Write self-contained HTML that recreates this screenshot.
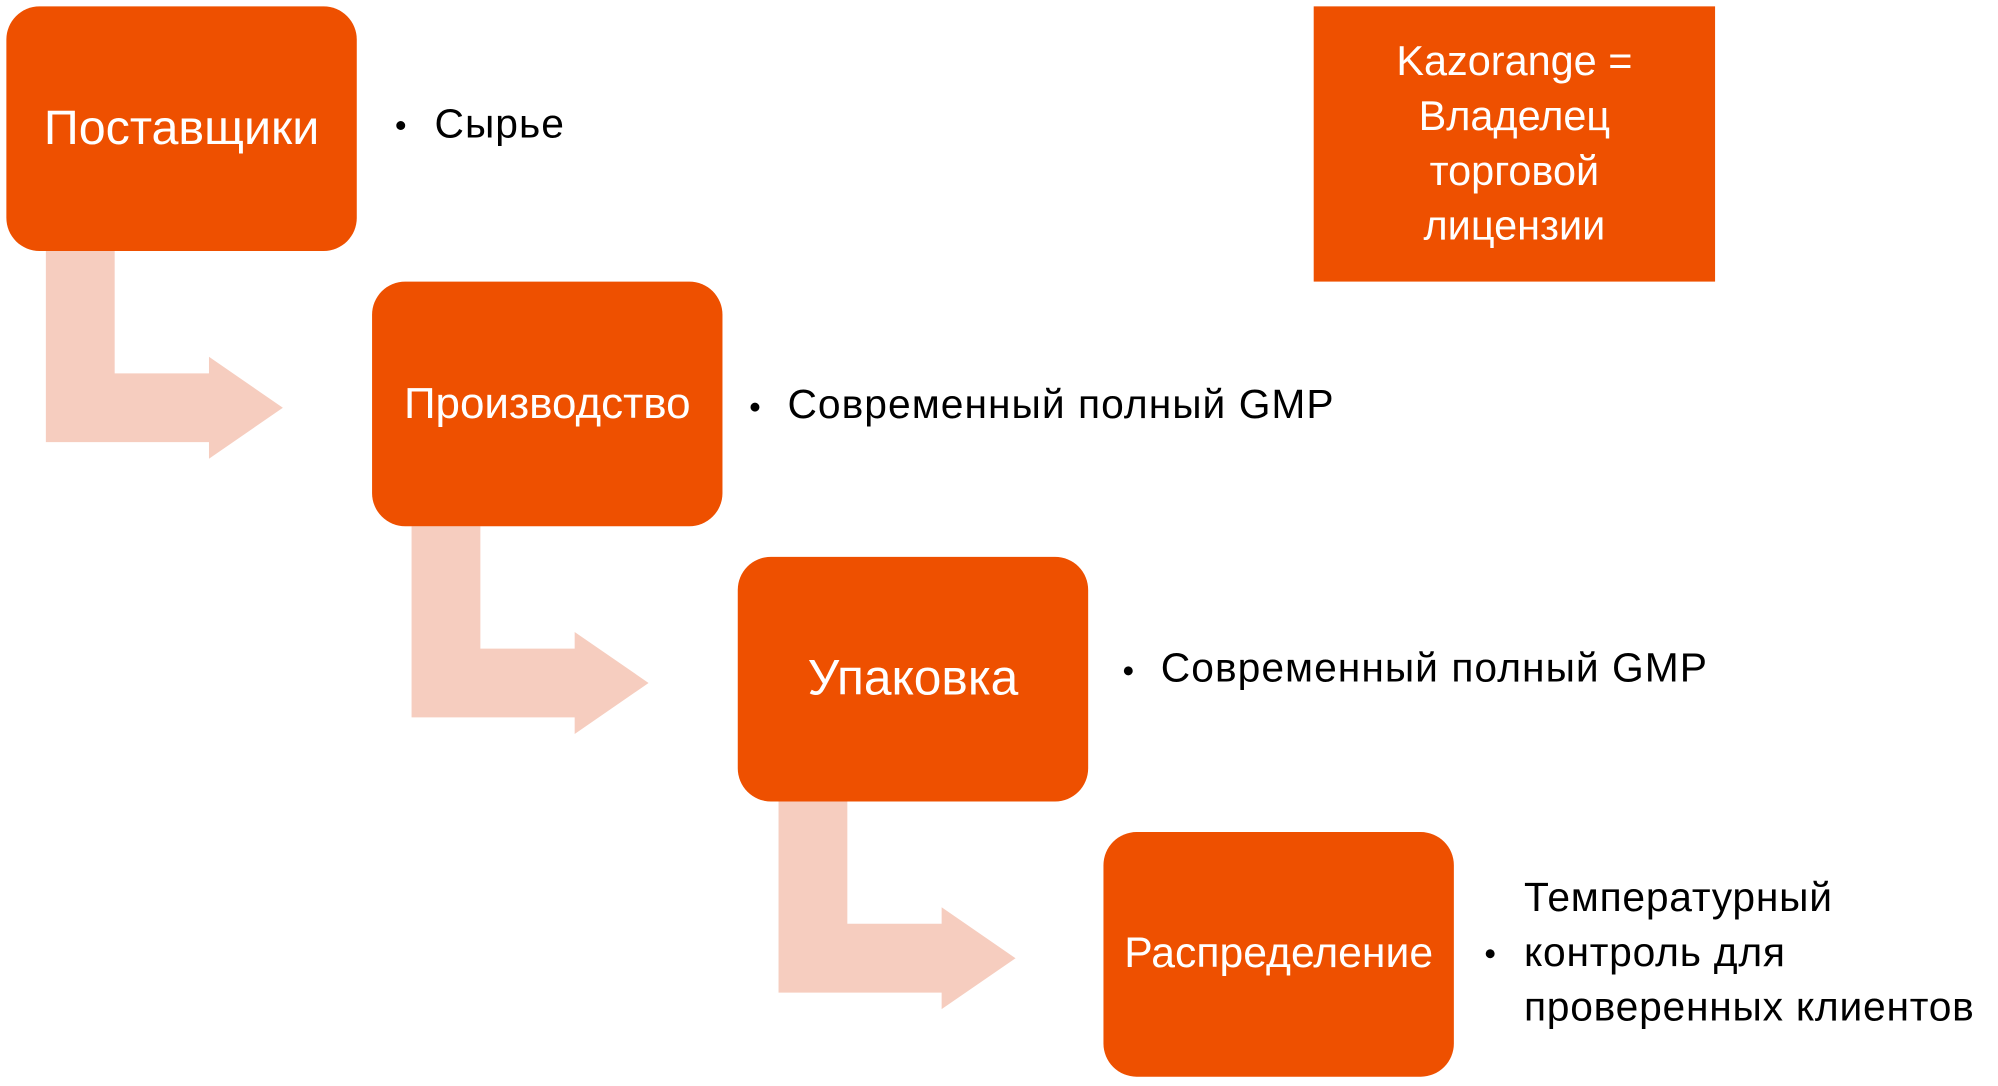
<!DOCTYPE html>
<html><head><meta charset="utf-8"><style>
html,body{margin:0;padding:0;background:#fff;}
body{width:1998px;height:1086px;overflow:hidden;position:relative;font-family:"Liberation Sans","DejaVu Sans",sans-serif;}
#s{position:absolute;left:0;top:0;width:1568px;height:852px;transform:scale(1.2742);transform-origin:0 0;}
.b{position:absolute;width:275px;height:192px;background:#EE5000;border-radius:26px;color:#fff;display:flex;align-items:center;justify-content:center;white-space:nowrap;}
.t{position:absolute;color:#000;font-size:32px;letter-spacing:0.8px;white-space:nowrap;}
.d{position:absolute;width:7px;height:7px;border-radius:50%;background:#000;}
</style></head><body><div id="s">
<svg width="1568" height="852" style="position:absolute;left:0;top:0">
<g fill="#F6CDBF">
<path d="M36 197 H90 V293 H164 V280 L222 320 L164 360 V347 H36 Z"/>
<path transform="translate(287,216)" d="M36 197 H90 V293 H164 V280 L222 320 L164 360 V347 H36 Z"/>
<path transform="translate(575,432)" d="M36 197 H90 V293 H164 V280 L222 320 L164 360 V347 H36 Z"/>
</g></svg>
<div class="b" style="left:5px;top:5px;font-size:38px">Поставщики</div>
<div class="b" style="left:292px;top:221px;font-size:34.5px">Производство</div>
<div class="b" style="left:579px;top:437px;font-size:39px">Упаковка</div>
<div class="b" style="left:866px;top:653px;font-size:33.5px">Распределение</div>
<div style="position:absolute;left:1031px;top:5px;width:315px;height:216px;background:#EE5000;color:#fff;font-size:32.5px;line-height:43px;text-align:center;display:flex;align-items:center;justify-content:center;">Kazorange =<br>Владелец<br>торговой<br>лицензии</div>
<div class="d" style="left:311px;top:95px"></div>
<div class="t" style="left:341px;top:79px">Сырье</div>
<div class="d" style="left:589px;top:316px"></div>
<div class="t" style="left:618px;top:299px">Современный полный GMP</div>
<div class="d" style="left:882px;top:523px"></div>
<div class="t" style="left:911px;top:506px">Современный полный GMP</div>
<div class="d" style="left:1166px;top:745px"></div>
<div class="t" style="left:1196px;top:683px;line-height:43px;letter-spacing:0.6px">Температурный<br>контроль для<br>проверенных клиентов</div>
</div></body></html>
